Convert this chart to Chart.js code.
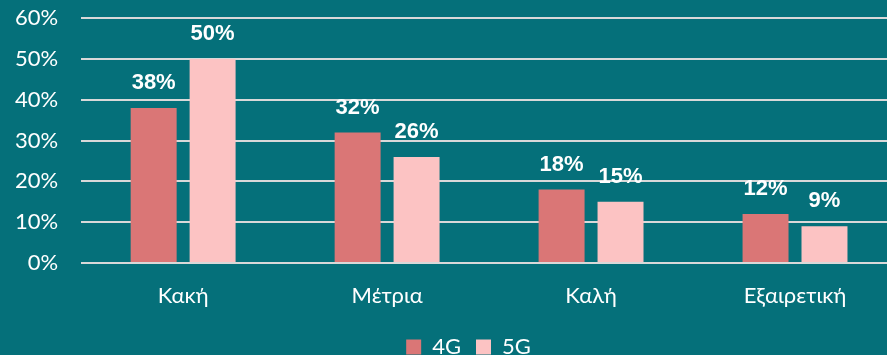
<!DOCTYPE html>
<html>
<head>
<meta charset="utf-8">
<script src="https://cdn.jsdelivr.net/npm/chart.js@4"></script>
<style>
  html, body { margin: 0; padding: 0; background: #05707A; overflow: hidden; }
  #wrap { width: 897px; height: 355px; }
</style>
</head>
<body>
<div id="wrap"><canvas id="chart"></canvas></div>
<script>
const categories = ["Κακή", "Μέτρια", "Καλή", "Εξαιρετική"];
const series4G = [38, 32, 18, 12];
const series5G = [50, 26, 15, 9];
const yTicks = [0, 10, 20, 30, 40, 50, 60];

// value labels above each bar
const barLabels = {
  id: "barLabels",
  afterDatasetsDraw(chart) {
    const ctx = chart.ctx;
    ctx.save();
    ctx.font = "bold 22px 'Liberation Sans', Arial, sans-serif";
    ctx.fillStyle = "#ffffff";
    ctx.textAlign = "center";
    ctx.textBaseline = "bottom";
    chart.data.datasets.forEach((ds, i) => {
      chart.getDatasetMeta(i).data.forEach((bar, j) => {
        ctx.fillText(ds.data[j] + "%", bar.x, bar.y - 14);
      });
    });
    ctx.restore();
  }
};

// legend row sits low and a bit right of centre
const legendShift = {
  id: "legendShift",
  beforeInit(chart) {
    const legend = chart.legend;
    const fit = legend.fit;
    legend.fit = function () {
      fit.call(this);
      this.height -= 13;
    };
    const draw = legend.draw;
    legend.draw = function () {
      const ctx = this.ctx;
      ctx.save();
      ctx.translate(15, 0);
      draw.call(this);
      ctx.restore();
    };
  }
};

const axisFont = { family: "Lato", size: 22 };

new Chart(document.getElementById("chart"), {
  type: "bar",
  data: {
    labels: categories,
    datasets: [
      { label: "4G", data: series4G, backgroundColor: "#DA7676" },
      { label: "5G", data: series5G, backgroundColor: "#FCC3C3" }
    ]
  },
  options: {
    responsive: true,
    maintainAspectRatio: false,
    animation: false,
    layout: { padding: { top: 0, right: 0, left: 10, bottom: 0 } },
    datasets: { bar: { categoryPercentage: 0.578, barPercentage: 0.78 } },
    scales: {
      x: {
        grid: { display: false },
        border: { display: false },
        ticks: { color: "#ffffff", font: axisFont, padding: 12 },
        afterFit: axis => { axis.height = 58; }
      },
      y: {
        min: 0,
        max: 60,
        afterBuildTicks: axis => { axis.ticks = yTicks.map(v => ({ value: v })); },
        grid: { color: "#D9D9D9", lineWidth: 2, tickLength: 18, tickColor: "rgba(0,0,0,0)" },
        border: { display: false },
        ticks: {
          color: "#ffffff",
          font: axisFont,
          padding: 5,
          callback: v => v + "%"
        }
      }
    },
    plugins: {
      legend: {
        position: "bottom",
        labels: {
          color: "#ffffff",
          font: axisFont,
          boxWidth: 15,
          boxHeight: 15,
          padding: 15
        }
      },
      tooltip: { enabled: false }
    }
  },
  plugins: [barLabels, legendShift]
});
</script>
</body>
</html>
